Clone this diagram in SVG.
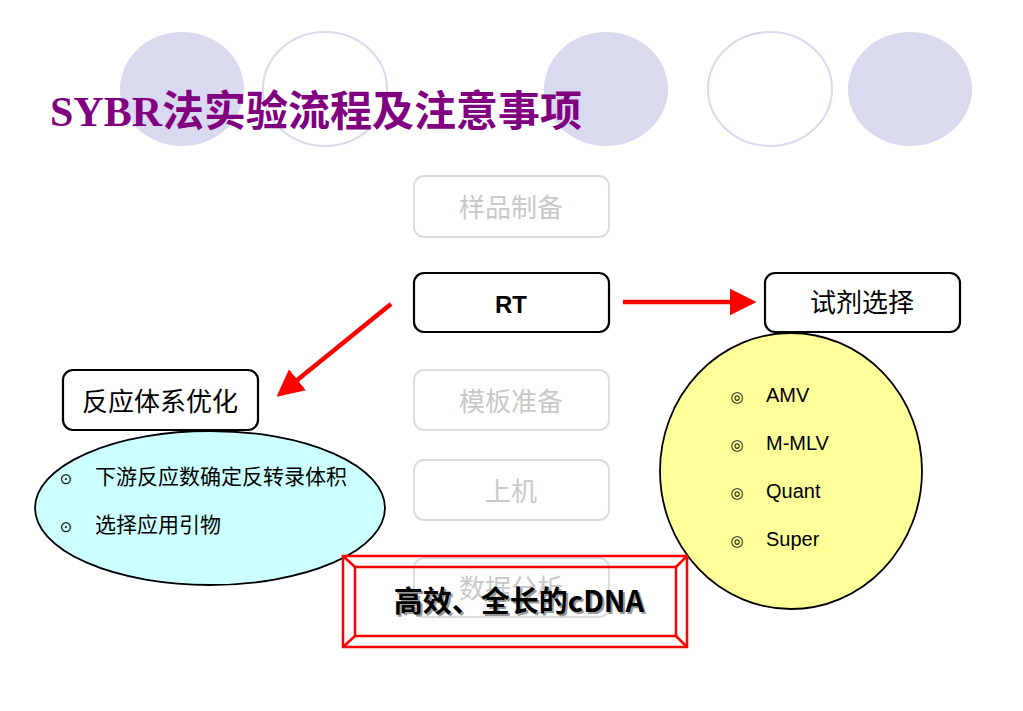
<svg xmlns="http://www.w3.org/2000/svg" width="1023" height="711" viewBox="0 0 1023 711">
<style>
.bgf{fill:#d9d9ef;stroke:none}
.bgo{fill:#fff;stroke:#d9d9ef;stroke-width:2}
.gbox{fill:#fff;stroke:#dcdcdc;stroke-width:2}
.gtxt{font-family:"Liberation Sans","Noto Sans CJK SC",sans-serif;font-size:26px;fill:#c8c8c8;text-anchor:middle}
.box{fill:#fff;stroke:#000;stroke-width:2.2}
.btxt{font-family:"Liberation Sans","Noto Sans CJK SC",sans-serif;font-size:26px;fill:#000;text-anchor:middle}
.li{font-family:"Liberation Sans","Noto Sans CJK SC",sans-serif;font-size:21px;fill:#000}
.lat{font-family:"Liberation Sans",Arial,sans-serif;font-size:20px;fill:#000}
.bul{font-family:"DejaVu Sans",sans-serif;font-size:15px;fill:#000;text-anchor:middle}
.arr{stroke:#f00;stroke-width:4.5;fill:none}
.red{fill:none;stroke:#f00;stroke-width:2.5}
</style>
<defs>
<marker id="ah" markerWidth="6" markerHeight="6" refX="5" refY="3" orient="auto" markerUnits="strokeWidth">
<path d="M0,0 L6,3 L0,6 Z" fill="#f00"/>
</marker>
</defs>
<rect width="1023" height="711" fill="#fff"/>
<g id="background">
<ellipse class="bgf" cx="182" cy="89" rx="62" ry="57"/>
<ellipse class="bgo" cx="325" cy="89" rx="62" ry="57"/>
<ellipse class="bgf" cx="606" cy="89" rx="62" ry="57"/>
<ellipse class="bgo" cx="770" cy="89" rx="62" ry="57"/>
<ellipse class="bgf" cx="910" cy="89" rx="62" ry="57"/>
</g>
<text id="title" x="50" y="126" font-family="'Liberation Serif','Noto Sans CJK SC',serif" font-size="42" font-weight="bold" fill="#800080">SYBR法实验流程及注意事项</text>
<g id="n-sample"><rect class="gbox" x="414" y="176" width="195" height="61" rx="10"/><text class="gtxt" x="511" y="217">样品制备</text></g>
<g id="n-rt"><rect class="box" x="414" y="273" width="195" height="59" rx="10"/><text x="511" y="313" font-family="'Liberation Sans',Arial,sans-serif" font-size="24" font-weight="bold" text-anchor="middle">RT</text></g>
<g id="n-template"><rect class="gbox" x="414" y="370" width="195" height="60" rx="10"/><text class="gtxt" x="511" y="411">模板准备</text></g>
<g id="n-load"><rect class="gbox" x="414" y="460" width="195" height="60" rx="10"/><text class="gtxt" x="511" y="501">上机</text></g>
<g id="n-data"><rect class="gbox" x="414" y="558" width="195" height="59" rx="10"/><text class="gtxt" x="511" y="598">数据分析</text></g>
<g id="n-reagent"><rect class="box" x="765" y="273" width="195" height="59" rx="10"/><text class="btxt" x="862" y="312">试剂选择</text></g>
<g id="n-opt"><rect class="box" x="63" y="370" width="195" height="60" rx="10"/><text class="btxt" x="160" y="411">反应体系优化</text></g>
<g id="n-opt-list">
<ellipse cx="210" cy="508" rx="175" ry="77" fill="#ccffff" stroke="#000" stroke-width="1.8"/>
<text class="bul" x="66" y="484">⊙</text><text class="li" x="95" y="484">下游反应数确定反转录体积</text>
<text class="bul" x="66" y="532">⊙</text><text class="li" x="95" y="532">选择应用引物</text>
</g>
<g id="n-reagent-list">
<ellipse cx="791" cy="471" rx="131" ry="138" fill="#ffff99" stroke="#000" stroke-width="1.8"/>
<text class="bul" x="737" y="402">◎</text><text class="lat" x="766" y="402">AMV</text>
<text class="bul" x="737" y="450">◎</text><text class="lat" x="766" y="450">M-MLV</text>
<text class="bul" x="737" y="498">◎</text><text class="lat" x="766" y="498">Quant</text>
<text class="bul" x="737" y="546">◎</text><text class="lat" x="766" y="546">Super</text>
</g>
<g id="connectors">
<line class="arr" x1="623" y1="302" x2="752" y2="302" marker-end="url(#ah)"/>
<line class="arr" x1="391" y1="304" x2="280" y2="394" marker-end="url(#ah)"/>
</g>
<g id="n-cdna">
<rect class="red" x="343" y="556" width="344" height="91"/>
<rect class="red" x="355" y="567" width="321" height="69"/>
<line class="red" x1="343" y1="556" x2="355" y2="567"/>
<line class="red" x1="687" y1="556" x2="676" y2="567"/>
<line class="red" x1="343" y1="647" x2="355" y2="636"/>
<line class="red" x1="687" y1="647" x2="676" y2="636"/>
<text x="521" y="614" font-family="'Noto Sans CJK SC',sans-serif" font-size="29" font-weight="bold" text-anchor="middle" fill="#999">高效、全长的cDNA</text>
<text x="519" y="612" font-family="'Noto Sans CJK SC',sans-serif" font-size="29" font-weight="bold" text-anchor="middle" fill="#000">高效、全长的cDNA</text>
</g>
</svg>
